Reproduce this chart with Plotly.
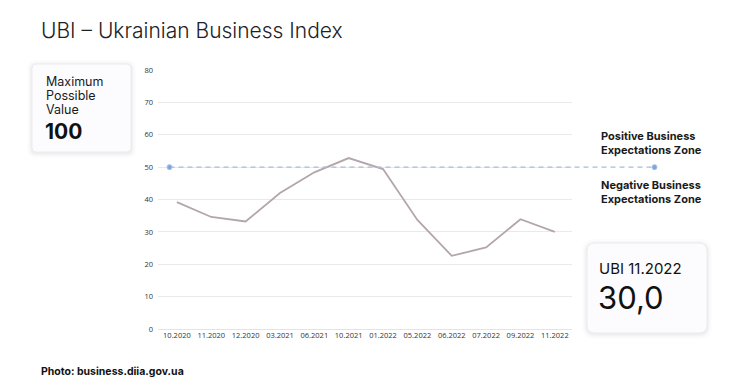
import plotly.graph_objects as go

# ---- data ----
months = ["10.2020", "11.2020", "12.2020", "03.2021", "06.2021", "10.2021",
          "01.2022", "05.2022", "06.2022", "07.2022", "09.2022", "11.2022"]
ubi_values = [39.2, 34.6, 33.2, 42.0, 48.4, 52.8, 49.4, 33.7, 22.6, 25.2, 33.9, 30.0]
y_ticks = [0, 10, 20, 30, 40, 50, 60, 70, 80]
threshold = 50
max_value = 100
latest_label = "UBI 11.2022"
latest_value = "30,0"

W, H = 750, 390
ML, MR, MT, MB = 158, 178, 70, 61
PW = W - ML - MR
PH = H - MT - MB

def px(x):
    return (x - ML) / PW

def py(y):
    return (H - MB - y) / PH

def rrect(x0, y0, x1, y1, r):
    X0, X1 = px(x0), px(x1)
    Y0, Y1 = py(y0), py(y1)
    rx, ry = r / PW, r / PH
    return (f"M {X0+rx},{Y0} L {X1-rx},{Y0} Q {X1},{Y0} {X1},{Y0-ry} "
            f"L {X1},{Y1+ry} Q {X1},{Y1} {X1-rx},{Y1} L {X0+rx},{Y1} "
            f"Q {X0},{Y1} {X0},{Y1+ry} L {X0},{Y0-ry} Q {X0},{Y0} {X0+rx},{Y0} Z")

fig = go.Figure()
fig.add_trace(go.Scatter(
    x=months, y=ubi_values, mode="lines",
    line=dict(color="#b3a5ad", width=1.8),
    hoverinfo="x+y", showlegend=False,
))

shapes = []
for (bx0, by0, bx1, by1, r) in [(32, 64, 131, 152, 4), (587, 243, 707, 333, 8)]:
    for k, a in [(5, 0.015), (3, 0.025), (1.5, 0.04)]:
        shapes.append(dict(type="path", xref="paper", yref="paper",
                           path=rrect(bx0 - k, by0 - k + 1, bx1 + k, by1 + k + 1, r + k),
                           fillcolor=f"rgba(60,60,90,{a})", line=dict(width=0), layer="below"))
    shapes.append(dict(type="path", xref="paper", yref="paper",
                       path=rrect(bx0, by0, bx1, by1, r),
                       fillcolor="#fcfcfe", line=dict(color="#ececf0", width=1), layer="below"))

x_left, x_right = px(169.5), px(654.5)
shapes.append(dict(type="line", xref="paper", yref="y", x0=x_left, x1=x_right,
                   y0=threshold, y1=threshold,
                   line=dict(color="#a9bccf", width=1.3, dash="5px,4px")))
for xa in (x_left, x_right):
    shapes.append(dict(type="circle", xref="paper", yref="y",
                       xsizemode="pixel", ysizemode="pixel",
                       xanchor=xa, yanchor=threshold,
                       x0=-2.5, x1=2.5, y0=-2.5, y1=2.5,
                       fillcolor="#7fa6dc", line=dict(color="#a8c3ea", width=1)))

txt = "#1a1a1a"

def ann(text, x, y, size, anchor="middle", color=txt, weight=None, family="Inter"):
    f = dict(family=family, size=size, color=color)
    if weight:
        f["weight"] = weight
    return dict(text=text, xref="paper", yref="paper", x=px(x), y=py(y),
                xanchor="left", yanchor=anchor, showarrow=False, align="left", font=f)

annotations = [
    ann("UBI – Ukrainian Business Index", 39, 30, 21, color="#222", weight=350),
    ann("Maximum", 44, 81.5, 12.5),
    ann("Possible", 44, 95.5, 12.5),
    ann("Value", 44, 109.5, 12.5),
    ann("<b>%d</b>" % max_value, 43, 131, 21, color="#111"),
    ann("<b>Positive Business<br>Expectations Zone</b>", 599, 143, 11),
    ann("<b>Negative Business<br>Expectations Zone</b>", 599, 192, 11),
    ann(latest_label, 597, 268, 15, color="#111"),
    ann(latest_value, 596, 297, 31, color="#111"),
    ann("<b>Photo: business.diia.gov.ua</b>", 39, 371, 10.5, color="#111"),
]

fig.update_layout(
    width=W, height=H,
    margin=dict(l=ML, r=MR, t=MT, b=MB),
    paper_bgcolor="white", plot_bgcolor="white",
    shapes=shapes, annotations=annotations,
    xaxis=dict(type="category", range=[-0.55, 11.5], showgrid=False, zeroline=False,
               showline=False, ticks="", tickfont=dict(family="Open Sans", size=7.5, color="#333"),
               fixedrange=True),
    yaxis=dict(range=[0, 80], tickvals=y_ticks, showgrid=True, gridcolor="#e9e9ec",
               gridwidth=1, zeroline=True, zerolinecolor="#e4e4e8", zerolinewidth=1,
               showline=False, ticks="", ticklabelstandoff=4,
               tickfont=dict(family="Open Sans", size=7.5, color="#333"), fixedrange=True),
)

fig.write_html("out.html", config={"displayModeBar": False},
               post_script="document.body.style.margin='0px';")
